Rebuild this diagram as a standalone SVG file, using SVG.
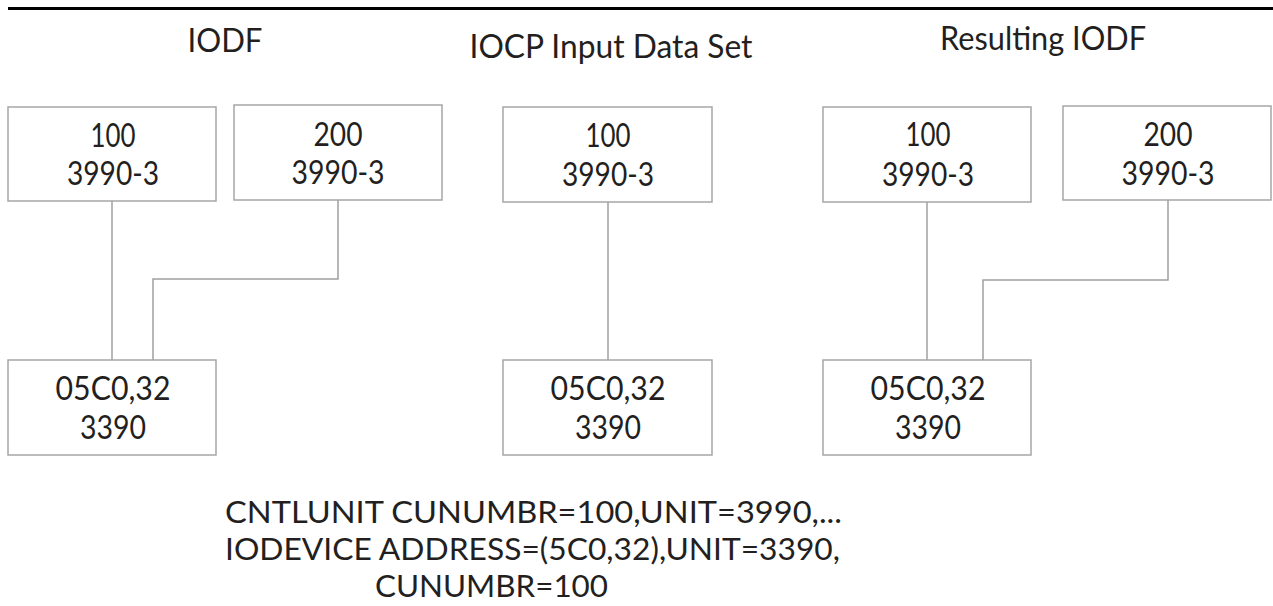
<svg xmlns="http://www.w3.org/2000/svg" width="1273" height="606" viewBox="0 0 1273 606">
<style>
  text { font-family: Lato, "Open Sans", "Liberation Sans", sans-serif; fill: #231f20; font-size: 33px; }
  .c { text-anchor: middle; }
  .stmt { font-size: 30.5px; }
  .box { fill: #ffffff; stroke: #a6a6a6; stroke-width: 1.5; }
  .wire { fill: none; stroke: #a0a0a0; stroke-width: 1.5; }
</style>
<rect x="0" y="0" width="1273" height="606" fill="#ffffff"/>
<line x1="8" y1="8.5" x2="1273" y2="8.5" stroke="#000000" stroke-width="3"/>

<g id="titles">
  <text class="c" x="225" y="52" textLength="75" lengthAdjust="spacingAndGlyphs">IODF</text>
  <text class="c" x="611" y="58" textLength="283" lengthAdjust="spacingAndGlyphs">IOCP Input Data Set</text>
  <text class="c" x="1043" y="50" textLength="206" lengthAdjust="spacingAndGlyphs">Resulting IODF</text>
</g>

<g id="connectors">
  <path class="wire" d="M112 201 V360"/>
  <path class="wire" d="M338 200 V279 H153 V360"/>
  <path class="wire" d="M608 202 V360"/>
  <path class="wire" d="M927 202 V360"/>
  <path class="wire" d="M1168 200 V280 H983 V360"/>
</g>

<g id="iodf-cu100">
  <rect class="box" x="8" y="107" width="208" height="94"/>
  <text class="c" x="113" y="147" textLength="45" lengthAdjust="spacingAndGlyphs">100</text>
  <text class="c" x="113" y="185" textLength="92" lengthAdjust="spacingAndGlyphs">3990-3</text>
</g>
<g id="iodf-cu200">
  <rect class="box" x="234" y="105" width="208" height="95"/>
  <text class="c" x="338" y="146" textLength="49" lengthAdjust="spacingAndGlyphs">200</text>
  <text class="c" x="338" y="184" textLength="93" lengthAdjust="spacingAndGlyphs">3990-3</text>
</g>
<g id="iodf-dev">
  <rect class="box" x="8" y="360" width="208" height="95"/>
  <text class="c" x="113" y="400" textLength="115" lengthAdjust="spacingAndGlyphs">05C0,32</text>
  <text class="c" x="113" y="439" textLength="66" lengthAdjust="spacingAndGlyphs">3390</text>
</g>

<g id="iocp-cu100">
  <rect class="box" x="503" y="107" width="209" height="95"/>
  <text class="c" x="608" y="147" textLength="45" lengthAdjust="spacingAndGlyphs">100</text>
  <text class="c" x="608" y="186" textLength="92" lengthAdjust="spacingAndGlyphs">3990-3</text>
</g>
<g id="iocp-dev">
  <rect class="box" x="503" y="360" width="209" height="95"/>
  <text class="c" x="608" y="400" textLength="115" lengthAdjust="spacingAndGlyphs">05C0,32</text>
  <text class="c" x="608" y="439" textLength="66" lengthAdjust="spacingAndGlyphs">3390</text>
</g>

<g id="result-cu100">
  <rect class="box" x="823" y="107" width="208" height="95"/>
  <text class="c" x="928" y="146" textLength="45" lengthAdjust="spacingAndGlyphs">100</text>
  <text class="c" x="928" y="186" textLength="92" lengthAdjust="spacingAndGlyphs">3990-3</text>
</g>
<g id="result-cu200">
  <rect class="box" x="1063" y="106" width="208" height="94"/>
  <text class="c" x="1168" y="146" textLength="49" lengthAdjust="spacingAndGlyphs">200</text>
  <text class="c" x="1168" y="185" textLength="93" lengthAdjust="spacingAndGlyphs">3990-3</text>
</g>
<g id="result-dev">
  <rect class="box" x="823" y="360" width="208" height="95"/>
  <text class="c" x="928" y="400" textLength="115" lengthAdjust="spacingAndGlyphs">05C0,32</text>
  <text class="c" x="928" y="439" textLength="66" lengthAdjust="spacingAndGlyphs">3390</text>
</g>

<g id="iocp-statements">
  <text class="stmt" x="225" y="523" textLength="617" lengthAdjust="spacingAndGlyphs">CNTLUNIT CUNUMBR=100,UNIT=3990,...</text>
  <text class="stmt" x="225" y="560" textLength="615" lengthAdjust="spacingAndGlyphs">IODEVICE ADDRESS=(5C0,32),UNIT=3390,</text>
  <text class="stmt" x="375" y="597" textLength="233" lengthAdjust="spacingAndGlyphs">CUNUMBR=100</text>
</g>
</svg>
